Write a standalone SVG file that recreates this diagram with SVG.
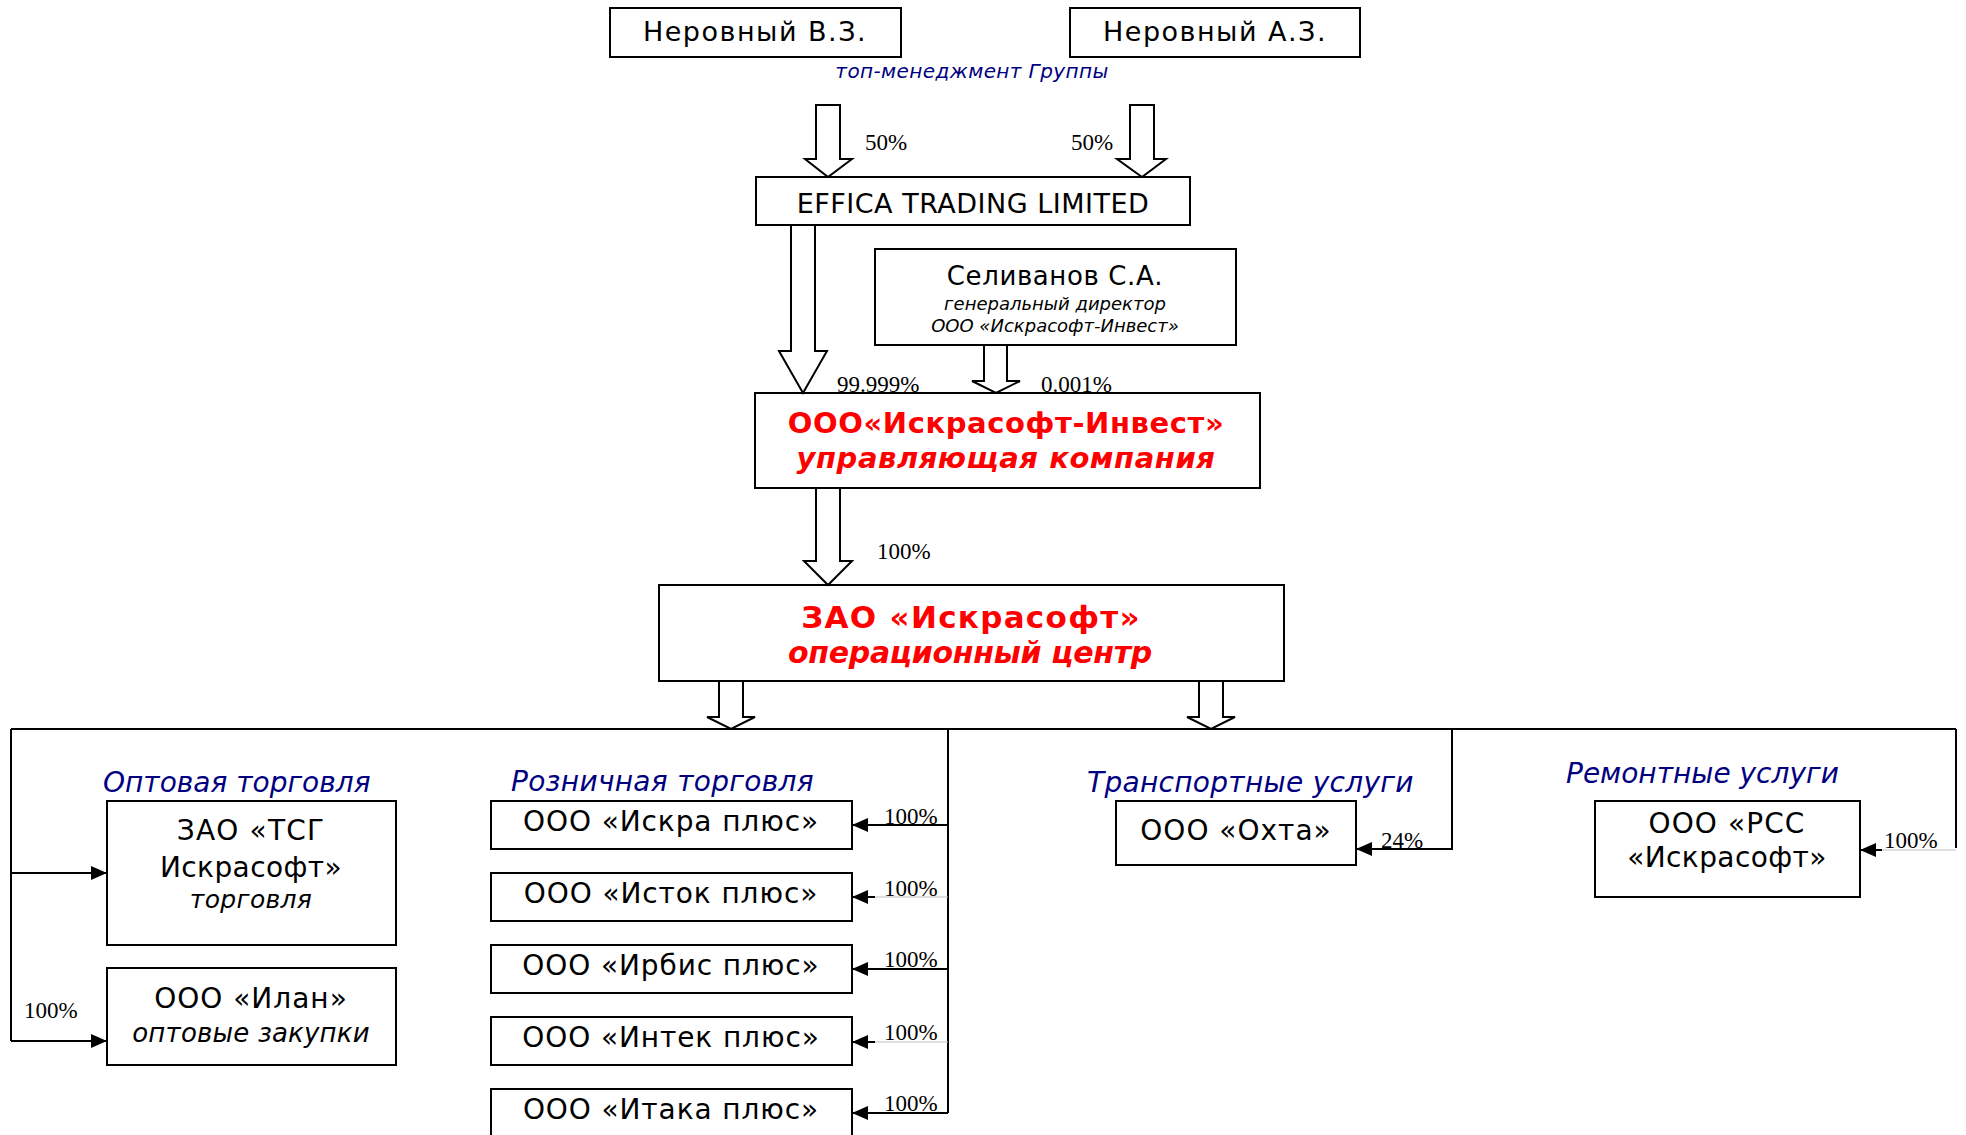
<svg xmlns="http://www.w3.org/2000/svg" width="1966" height="1135" viewBox="0 0 1966 1135">
<defs>
<style>
.box{fill:#fff;stroke:#000;stroke-width:2}
.barrow{fill:#fff;stroke:#000;stroke-width:2;stroke-linejoin:miter}
.t{font-family:"DejaVu Sans",Verdana,sans-serif;fill:#000;text-anchor:middle}
.i{font-style:italic}
.red{fill:#ff0000;font-weight:bold}
.cat{font-family:"DejaVu Sans",Verdana,sans-serif;font-style:italic;fill:#000080;font-size:28px}
.pct{font-family:"Liberation Serif","Times New Roman",serif;fill:#000;font-size:23px}
.ln{fill:none;stroke:#000;stroke-width:2}
.gl{fill:none;stroke:#c0c0c0;stroke-width:1}
.ret{font-size:28px;letter-spacing:0.9px}
</style>
<marker id="ah" viewBox="0 0 16 14" refX="16" refY="7" markerWidth="16" markerHeight="14" markerUnits="userSpaceOnUse" orient="auto">
<path d="M0 0 L16 7 L0 14 Z" fill="#000"/>
</marker>
</defs>
<rect width="1966" height="1135" fill="#fff"/>

<g id="nerovny-vz"><rect class="box" x="610" y="8" width="291" height="49"/><text class="t" x="755" y="41" font-size="27" letter-spacing="1.5">Неровный В.З.</text></g>
<g id="nerovny-az"><rect class="box" x="1070" y="8" width="290" height="49"/><text class="t" x="1215" y="41" font-size="27" letter-spacing="1.5">Неровный А.З.</text></g>
<g id="top-mgmt"><text class="t i" x="972" y="78" font-size="20" letter-spacing="0.4" style="fill:#000080">топ-менеджмент Группы</text></g>
<g id="effica"><rect class="box" x="756" y="177" width="434" height="48"/><text class="t" x="973" y="213" font-size="27" letter-spacing="0.5">EFFICA TRADING LIMITED</text></g>
<g id="selivanov"><rect class="box" x="875" y="249" width="361" height="96"/>
<text class="t" x="1055" y="285" font-size="26" letter-spacing="0.6">Селиванов С.А.</text>
<text class="t i" x="1055" y="310" font-size="18">генеральный директор</text>
<text class="t i" x="1055" y="332" font-size="18">ООО «Искрасофт-Инвест»</text></g>
<g id="iskrasoft-invest"><rect class="box" x="755" y="393" width="505" height="95"/>
<text class="t red" x="1006" y="433" font-size="29" letter-spacing="0.6">ООО«Искрасофт-Инвест»</text>
<text class="t red i" x="1006" y="468" font-size="29" letter-spacing="0.55">управляющая компания</text></g>
<g id="zao-iskrasoft"><rect class="box" x="659" y="585" width="625" height="96"/>
<text class="t red" x="971" y="628" font-size="31" letter-spacing="1.3">ЗАО «Искрасофт»</text>
<text class="t red i" x="970" y="663" font-size="30" letter-spacing="-0.3">операционный центр</text></g>

<g id="cat-wholesale"><text class="cat" x="103" y="792">Оптовая торговля</text></g>
<g id="cat-retail"><text class="cat" x="511" y="791" letter-spacing="0.3">Розничная торговля</text></g>
<g id="cat-transport"><text class="cat" x="1087" y="792" letter-spacing="0.3">Транспортные услуги</text></g>
<g id="cat-repair"><text class="cat" x="1566" y="783">Ремонтные услуги</text></g>

<g id="tsg"><rect class="box" x="107" y="801" width="289" height="144"/>
<text class="t" x="251" y="840" font-size="28" letter-spacing="1.2">ЗАО «ТСГ</text>
<text class="t" x="251" y="877" font-size="28" letter-spacing="0.4">Искрасофт»</text>
<text class="t i" x="251" y="908" font-size="25" letter-spacing="0.3">торговля</text></g>
<g id="ilan"><rect class="box" x="107" y="968" width="289" height="97"/>
<text class="t" x="251" y="1008" font-size="28" letter-spacing="1">ООО «Илан»</text>
<text class="t i" x="251" y="1042" font-size="26" letter-spacing="0.2">оптовые закупки</text></g>

<g id="iskra-plus"><rect class="box" x="491" y="801" width="361" height="48"/><text class="t ret" x="671" y="831">ООО «Искра плюс»</text></g>
<g id="istok-plus"><rect class="box" x="491" y="873" width="361" height="48"/><text class="t ret" x="671" y="903">ООО «Исток плюс»</text></g>
<g id="irbis-plus"><rect class="box" x="491" y="945" width="361" height="48"/><text class="t ret" x="671" y="975">ООО «Ирбис плюс»</text></g>
<g id="intek-plus"><rect class="box" x="491" y="1017" width="361" height="48"/><text class="t ret" x="671" y="1047">ООО «Интек плюс»</text></g>
<g id="itaka-plus"><rect class="box" x="491" y="1089" width="361" height="60"/><text class="t ret" x="671" y="1119">ООО «Итака плюс»</text></g>

<g id="okhta"><rect class="box" x="1116" y="801" width="240" height="64"/><text class="t" x="1236" y="840" font-size="28" letter-spacing="1">ООО «Охта»</text></g>
<g id="rss"><rect class="box" x="1595" y="801" width="265" height="96"/>
<text class="t" x="1727" y="833" font-size="28" letter-spacing="1.1">ООО «РСС</text>
<text class="t" x="1727" y="867" font-size="28" letter-spacing="0.4">«Искрасофт»</text></g>

<g id="connectors">
<path class="barrow" d="M816 105 L840 105 L840 159 L852 159 L828 177 L805 159 L816 159 Z"/>
<path class="barrow" d="M1130 105 L1154 105 L1154 159 L1166 159 L1142 177 L1117 159 L1130 159 Z"/>
<path class="barrow" d="M791 225 L815 225 L815 351 L827 351 L803 393 L779 351 L791 351 Z"/>
<path class="barrow" d="M984 345 L1007 345 L1007 381 L1020 381 L996 393 L972 381 L984 381 Z"/>
<path class="barrow" d="M816 488 L840 488 L840 561 L852 561 L828 585 L804 561 L816 561 Z"/>
<path class="barrow" d="M719 681 L743 681 L743 717 L755 717 L731 729 L707 717 L719 717 Z"/>
<path class="barrow" d="M1199 681 L1223 681 L1223 717 L1235 717 L1211 729 L1187 717 L1199 717 Z"/>

<path class="ln" d="M11 729 L1956 729"/>
<path class="ln" d="M11 729 L11 1041"/>
<path class="ln" d="M11 873 L107 873" marker-end="url(#ah)"/>
<path class="ln" d="M11 1041 L107 1041" marker-end="url(#ah)"/>

<path class="ln" d="M948 729 L948 1113"/>
<path class="ln" d="M948 825 L852 825" marker-end="url(#ah)"/>
<path class="gl" d="M948 897 L875 897"/>
<path class="ln" d="M875 897 L852 897" marker-end="url(#ah)"/>
<path class="ln" d="M948 969 L852 969" marker-end="url(#ah)"/>
<path class="gl" d="M948 1042 L875 1042"/>
<path class="ln" d="M875 1042 L852 1042" marker-end="url(#ah)"/>
<path class="ln" d="M948 1113 L852 1113" marker-end="url(#ah)"/>

<path class="ln" d="M1452 729 L1452 849 L1356 849" marker-end="url(#ah)"/>
<path class="ln" d="M1956 729 L1956 848"/>
<path class="gl" d="M1956 850 L1882 850"/>
<path class="ln" d="M1882 850 L1860 850" marker-end="url(#ah)"/>

<text class="pct" x="865" y="150">50%</text>
<text class="pct" x="1071" y="150">50%</text>
<text class="pct" x="837" y="392">99.999%</text>
<text class="pct" x="1041" y="392">0.001%</text>
<text class="pct" x="877" y="559">100%</text>
<text class="pct" x="24" y="1018">100%</text>
<text class="pct" x="884" y="824">100%</text>
<text class="pct" x="884" y="896">100%</text>
<text class="pct" x="884" y="967">100%</text>
<text class="pct" x="884" y="1040">100%</text>
<text class="pct" x="884" y="1111">100%</text>
<text class="pct" x="1381" y="848">24%</text>
<text class="pct" x="1884" y="848">100%</text>
</g>
</svg>
